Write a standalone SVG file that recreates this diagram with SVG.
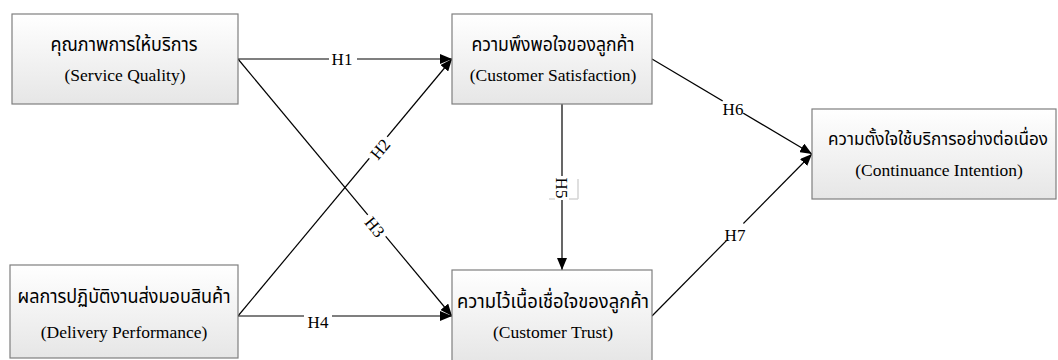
<svg xmlns="http://www.w3.org/2000/svg" width="1058" height="360" viewBox="0 0 1058 360">
<defs>
<linearGradient id="g" x1="0" y1="0" x2="0" y2="1">
<stop offset="0" stop-color="#ffffff"/>
<stop offset="1" stop-color="#e6e6e6"/>
</linearGradient>
<marker id="ah" viewBox="0 0 12 10" refX="12" refY="5" markerWidth="12" markerHeight="10" markerUnits="userSpaceOnUse" orient="auto">
<path d="M0,0 L12,5 L0,10 Z" fill="#000"/>
</marker>
<style>
.box{fill:url(#g);stroke:#7f7f7f;stroke-width:1.2}
.th{font-family:"Liberation Serif","DejaVu Serif","Noto Sans Thai",serif;font-size:20px;fill:#000;text-anchor:middle}
.en{font-family:"Liberation Serif","Times New Roman",serif;font-size:17.5px;fill:#000;text-anchor:middle}
.lb{font-family:"Liberation Serif","Times New Roman",serif;font-size:17px;fill:#000;text-anchor:middle}
.ln{stroke:#000;stroke-width:1.2;fill:none;marker-end:url(#ah)}
</style>
</defs>
<rect width="1058" height="360" fill="#fff"/>
<g id="connectors">
<line class="ln" x1="238" y1="59" x2="452" y2="59"/>
<line class="ln" x1="238" y1="316" x2="452" y2="59"/>
<line class="ln" x1="238" y1="59" x2="452" y2="316"/>
<line class="ln" x1="238" y1="316" x2="452" y2="316"/>
<line class="ln" x1="562" y1="104" x2="562" y2="270"/>
<line class="ln" x1="652" y1="59" x2="812" y2="154"/>
<line class="ln" x1="652" y1="316" x2="812" y2="154"/>
<g id="labels">
<rect x="329" y="52" width="28" height="14" fill="#fff"/>
<text class="lb" x="342" y="65">H1</text>
<g transform="translate(380,149) rotate(-50.2)"><rect x="-14" y="-7" width="28" height="14" fill="#fff"/><text class="lb" x="0" y="6">H2</text></g>
<g transform="translate(375,227) rotate(50.2)"><rect x="-14" y="-7" width="28" height="14" fill="#fff"/><text class="lb" x="0" y="6">H3</text></g>
<rect x="304" y="312" width="28" height="10" fill="#fff"/>
<text class="lb" x="318" y="328">H4</text>
<line x1="578" y1="179" x2="578" y2="199" stroke="#d4d4d4" stroke-width="1.5"/>
<line x1="549" y1="199" x2="578" y2="199" stroke="#d4d4d4" stroke-width="1.5"/>
<g transform="translate(562,188) rotate(90)"><rect x="-12" y="-7" width="24" height="14" fill="#fff"/><text class="lb" x="0" y="6">H5</text></g>
<g transform="translate(733,107) rotate(30.7)"><rect x="-12" y="-5" width="24" height="10" fill="#fff"/></g>
<text class="lb" x="733" y="115">H6</text>
<g transform="translate(735,232) rotate(-45.3)"><rect x="-12" y="-5" width="24" height="10" fill="#fff"/></g>
<text class="lb" x="735" y="241">H7</text>
</g>
</g>
<g id="n1">
<rect class="box" x="12" y="14" width="226" height="90"/>
<text class="th" x="124" y="51" textLength="147" lengthAdjust="spacingAndGlyphs">คุณภาพการให้บริการ</text>
<text class="en" x="125" y="81">(Service Quality)</text>
</g>
<g id="n2">
<rect class="box" x="452" y="14" width="200" height="90"/>
<text class="th" x="553" y="51" textLength="163" lengthAdjust="spacingAndGlyphs">ความพึงพอใจของลูกค้า</text>
<text class="en" x="553" y="81">(Customer Satisfaction)</text>
</g>
<g id="n3">
<rect class="box" x="10" y="265" width="228" height="93"/>
<text class="th" x="124" y="303" textLength="213" lengthAdjust="spacingAndGlyphs">ผลการปฏิบัติงานส่งมอบสินค้า</text>
<text class="en" x="124" y="338">(Delivery Performance)</text>
</g>
<g id="n4">
<rect class="box" x="452" y="270" width="200" height="92"/>
<text class="th" x="553" y="308" textLength="192" lengthAdjust="spacingAndGlyphs">ความไว้เนื้อเชื่อใจของลูกค้า</text>
<text class="en" x="553" y="338">(Customer Trust)</text>
</g>
<g id="n5">
<rect class="box" x="812" y="109" width="244" height="90"/>
<text class="th" x="938" y="145" style="font-size:18px" textLength="220" lengthAdjust="spacingAndGlyphs">ความตั้งใจใช้บริการอย่างต่อเนื่อง</text>
<text class="en" x="939" y="176">(Continuance Intention)</text>
</g>
</svg>
